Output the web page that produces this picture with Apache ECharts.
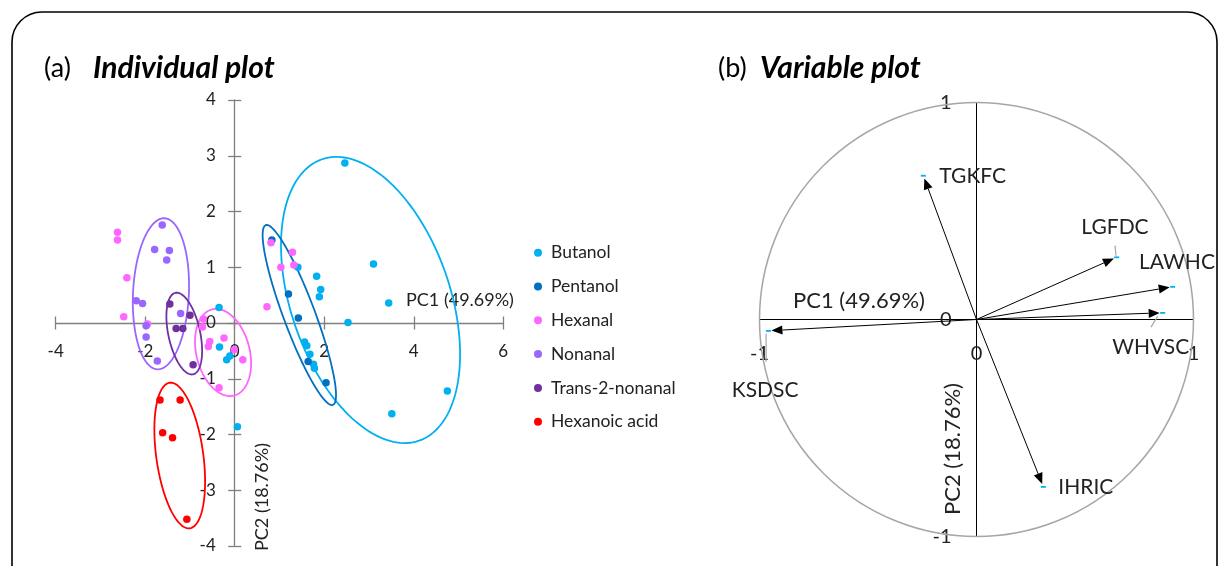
<!DOCTYPE html>
<html>
<head>
<meta charset="utf-8">
<script src="https://cdn.jsdelivr.net/npm/echarts@6/dist/echarts.min.js"></script>
<style>
  html, body { margin: 0; padding: 0; background: #ffffff; }
  #chart { width: 1218px; height: 566px; }
</style>
</head>
<body>
<div id="chart"></div>
<script>
// ---- PCA individual scores (PC1, PC2) per sample group ----
const groupNames = ['Butanol', 'Pentanol', 'Hexanal', 'Nonanal', 'Trans-2-nonanal', 'Hexanoic acid'];
const groupColors = ['#00B0F0', '#0070C0', '#FF66FF', '#9966FF', '#7030A0', '#FF0000'];

const butanolScores = [
  [2.46, 2.87], [3.10, 1.06], [3.44, 0.36], [2.53, 0.01], [4.75, -1.22], [3.51, -1.63],
  [1.83, 0.84], [1.92, 0.60], [1.89, 0.47], [1.41, 1.00], [1.56, -0.34], [1.61, -0.41],
  [1.68, -0.56], [1.76, -0.74], [1.78, -0.81], [-0.35, 0.28], [-0.34, -0.43],
  [-0.18, -0.66], [-0.11, -0.59], [0.06, -1.86]
];
const pentanolScores = [
  [0.83, 1.49], [1.20, 0.52], [1.42, 0.09], [1.64, -0.69], [2.04, -1.07]
];
const hexanalScores = [
  [-2.62, 1.63], [-2.62, 1.49], [-2.41, 0.81], [-2.48, 0.11], [-1.95, -0.02],
  [-0.70, 0.07], [-0.72, -0.07], [-0.56, -0.33], [-0.59, -0.42], [-0.24, -0.27],
  [-0.01, -0.48], [0.18, -0.66], [-0.35, -1.16], [0.72, 0.29], [0.81, 1.44],
  [1.29, 1.27], [1.03, 1.00], [1.32, 1.04]
];
const nonanalScores = [
  [-1.62, 1.76], [-1.79, 1.32], [-1.46, 1.30], [-1.52, 1.13], [-2.20, 0.40],
  [-2.06, 0.35], [-1.98, -0.05], [-1.98, -0.25], [-1.73, -0.68], [-1.21, 0.17]
];
const trans2NonanalScores = [
  [-1.45, 0.34], [-1.00, 0.14], [-1.31, -0.10], [-1.16, -0.10], [-0.93, -0.75]
];
const hexanoicAcidScores = [
  [-1.67, -1.38], [-1.22, -1.38], [-1.61, -1.97], [-1.39, -2.06], [-1.07, -3.52]
];
const groupScores = [butanolScores, pentanolScores, hexanalScores, nonanalScores, trans2NonanalScores, hexanoicAcidScores];

// Confidence ellipses: centre (cx, cy) and two conjugate semi-axis vectors (u, v), in score units
const ellipseParams = [
  [3.034, 0.413, 1.083, -2.524, 1.682, 0.465],
  [1.443, 0.143, 0.750, -1.612, 0.331, 0.099],
  [-0.261, -0.529, 0.247, -0.772, 0.576, 0.119],
  [-1.649, 0.524, -0.080, -1.355, 0.623, -0.024],
  [-1.128, -0.190, 0.197, -0.731, 0.347, 0.060],
  [-1.229, -2.377, 0.225, -1.305, 0.520, 0.058]
];

// ---- PCA variable loadings ----
const varNames = ['TGKFC', 'LGFDC', 'LAWHC', 'WHVSC', 'KSDSC', 'IHRIC'];
const varPC1 = [-0.245, 0.646, 0.904, 0.858, -0.959, 0.308];
const varPC2 = [0.663, 0.287, 0.151, 0.031, -0.052, -0.771];

// Axis titles
const pc1Title = 'PC1 (49.69%)';
const pc2Title = 'PC2 (18.76%)';

// label placement for each loading (pixel offsets from the arrow end, optional leader line)
const varLabelPlacement = [
  { dx: 16, dy: 1, align: 'left' },
  { dx: -1.7, dy: -29.6, align: 'center', leader: [-1.7, -11.6, -0.7, -1.5] },
  { dx: 4.3, dy: -24, align: 'center' },
  { dx: -12, dy: 34.6, align: 'center', leader: [-11.7, 14.3, -5, 3.5] },
  { dx: -3.3, dy: 59.3, align: 'center', leader: [-2.3, 3, -2.3, 31] },
  { dx: 15, dy: 0.6, align: 'left' }
];

const FONT = 'Lato, "Open Sans", "DejaVu Sans", sans-serif';
const TEXT = '#222222';
const chart = echarts.init(document.getElementById('chart'), null, { renderer: 'canvas' });

// plot areas
const gridA = { left: 55.7, top: 100, width: 447.6, height: 446 };
const gridB = { left: 759.5, top: 102.5, width: 434, height: 434 };
const xRangeA = [-4, 6], yRangeA = [-4, 4];
const xRangeB = [-1, 1], yRangeB = [-1, 1];

// offsets that move each axis onto the other axis' zero
function zeroOffsetX(grid, yr) { return -grid.height * (0 - yr[0]) / (yr[1] - yr[0]); }
function zeroOffsetY(grid, xr) { return -grid.width * (0 - xr[0]) / (xr[1] - xr[0]); }

const leftAxisColor = '#7f7f7f';

function makeAxis(gridIndex, range, interval, position, offset, lineColor, lineWidth, tickLen, label, inside) {
  return {
    type: 'value', gridIndex, min: range[0], max: range[1], interval, position, offset,
    splitLine: { show: false },
    axisLine: { show: !inside, onZero: false, lineStyle: { color: lineColor, width: lineWidth } },
    axisTick: { show: true, inside: !!inside, length: tickLen, lineStyle: { color: lineColor, width: lineWidth } },
    axisLabel: label ? Object.assign({ show: true, color: TEXT, fontFamily: FONT, hideOverlap: false }, label) : { show: false }
  };
}

const offXA = zeroOffsetX(gridA, yRangeA), offYA = zeroOffsetY(gridA, xRangeA);
const offXB = zeroOffsetX(gridB, yRangeB), offYB = zeroOffsetY(gridB, xRangeB);

const option = {
  animation: false,
  backgroundColor: '#ffffff',
  textStyle: { fontFamily: FONT },
  grid: [
    Object.assign({ outerBoundsMode: 'none', containLabel: false }, gridA),
    Object.assign({ outerBoundsMode: 'none', containLabel: false }, gridB)
  ],
  xAxis: [
    makeAxis(0, xRangeA, 2, 'bottom', offXA, leftAxisColor, 1.3, 6.5, { fontSize: 17, margin: 20 }),
    makeAxis(0, xRangeA, 2, 'bottom', offXA, leftAxisColor, 1.3, 6.5, null, true),
    makeAxis(1, xRangeB, 1, 'bottom', offXB, '#000', 1, 6, { fontSize: 20, margin: 24 }),
    makeAxis(1, xRangeB, 1, 'bottom', offXB, '#000', 1, 6, null, true)
  ],
  yAxis: [
    makeAxis(0, yRangeA, 1, 'left', offYA, leftAxisColor, 1.3, 6.5, { fontSize: 17, margin: 19 }),
    makeAxis(0, yRangeA, 1, 'left', offYA, leftAxisColor, 1.3, 6.5, null, true),
    makeAxis(1, yRangeB, 1, 'left', offYB, '#000', 1, 8.5, { fontSize: 20, margin: 25 }),
    makeAxis(1, yRangeB, 1, 'left', offYB, '#000', 1, 8.5, null, true)
  ],
  legend: {
    data: groupNames,
    orient: 'vertical',
    left: 534, top: 242.7, padding: 0,
    icon: 'circle', itemWidth: 8, itemHeight: 8, itemGap: 13.8,
    textStyle: { color: TEXT, fontSize: 17.5, fontFamily: FONT, lineHeight: 20, padding: [0, 0, 0, 4] },
    selectedMode: false
  },
  graphic: [
    { type: 'rect', shape: { x: 12, y: 12, width: 1205, height: 640, r: 30 },
      style: { fill: 'none', stroke: '#000', lineWidth: 1.6 }, z: 0, silent: true },
    { type: 'text', x: 44, y: 68, style: { text: '(a)', font: '27px ' + FONT, fill: '#000', verticalAlign: 'middle' } },
    { type: 'text', x: 93, y: 68, style: { text: 'Individual plot', font: 'italic bold 30px ' + FONT, fill: '#000', verticalAlign: 'middle' } },
    { type: 'text', x: 718, y: 68, style: { text: '(b)', font: '27px ' + FONT, fill: '#000', verticalAlign: 'middle' } },
    { type: 'text', x: 760, y: 68, style: { text: 'Variable plot', font: 'italic bold 30px ' + FONT, fill: '#000', verticalAlign: 'middle' } },
    { type: 'text', x: 406, y: 300, style: { text: pc1Title, font: '18px ' + FONT, fill: TEXT, verticalAlign: 'middle' } },
    { type: 'text', x: 262, y: 497, rotation: Math.PI / 2,
      style: { text: pc2Title, font: '18px ' + FONT, fill: TEXT, align: 'center', verticalAlign: 'middle' } },
    { type: 'text', x: 793, y: 301, style: { text: pc1Title, font: '22px ' + FONT, fill: TEXT, verticalAlign: 'middle' } },
    { type: 'text', x: 953, y: 449, rotation: Math.PI / 2,
      style: { text: pc2Title, font: '22px ' + FONT, fill: TEXT, align: 'center', verticalAlign: 'middle' } }
  ],
  series: []
};

// group confidence ellipses
option.series.push({
  type: 'custom', name: 'ellipses', xAxisIndex: 0, yAxisIndex: 0, silent: true, z: 2,
  data: ellipseParams.map((e, i) => [e[0], e[1], i]),
  renderItem(params, api) {
    const i = api.value(2);
    const e = ellipseParams[i];
    const pts = [];
    for (let k = 0; k <= 160; k++) {
      const t = (k / 160) * Math.PI * 2;
      pts.push(api.coord([
        e[0] + e[2] * Math.cos(t) + e[4] * Math.sin(t),
        e[1] + e[3] * Math.cos(t) + e[5] * Math.sin(t)
      ]));
    }
    return { type: 'polyline', shape: { points: pts }, style: { stroke: groupColors[i], fill: 'none', lineWidth: 1.8 } };
  }
});

// individual scores
groupNames.forEach((name, i) => {
  option.series.push({
    name, type: 'scatter', xAxisIndex: 0, yAxisIndex: 0,
    data: groupScores[i], symbol: 'circle', symbolSize: 7.5,
    itemStyle: { color: groupColors[i], opacity: 1 }, z: 3
  });
});

// correlation circle
option.series.push({
  type: 'custom', name: 'circle', xAxisIndex: 2, yAxisIndex: 2, silent: true, z: 1,
  data: [[0, 0]],
  renderItem(params, api) {
    const c = api.coord([0, 0]);
    const r = api.size([1, 1])[0];
    return { type: 'circle', shape: { cx: c[0], cy: c[1], r }, style: { fill: 'none', stroke: '#a6a6a6', lineWidth: 1.5 } };
  }
});

// loading vectors
option.series.push({
  type: 'custom', name: 'loadings', xAxisIndex: 2, yAxisIndex: 2, silent: true, z: 3,
  data: varPC1.map((x, i) => [x, varPC2[i], i]),
  renderItem(params, api) {
    const i = api.value(2);
    const o = api.coord([0, 0]);
    const p = api.coord([api.value(0), api.value(1)]);
    const dx = p[0] - o[0], dy = p[1] - o[1];
    const L = Math.hypot(dx, dy);
    const ux = dx / L, uy = dy / L;
    const tip = [p[0] - 3 * ux, p[1] - 3 * uy];
    const hl = 11, hw = 4.6;
    const base = [tip[0] - hl * ux, tip[1] - hl * uy];
    const left = [base[0] - hw * uy, base[1] + hw * ux];
    const right = [base[0] + hw * uy, base[1] - hw * ux];
    const lp = varLabelPlacement[i];
    const children = [
      { type: 'line', shape: { x1: o[0], y1: o[1], x2: base[0], y2: base[1] }, style: { stroke: '#000', lineWidth: 1 } },
      { type: 'polygon', shape: { points: [tip, left, right] }, style: { fill: '#000' } },
      { type: 'rect', shape: { x: p[0] - 2.5, y: p[1] - 0.8, width: 5, height: 1.8 }, style: { fill: '#00B0F0' } },
      { type: 'text', style: { text: varNames[i], x: p[0] + lp.dx, y: p[1] + lp.dy, font: '21px ' + FONT,
          fill: TEXT, align: lp.align, verticalAlign: 'middle' } }
    ];
    if (lp.leader) {
      children.push({ type: 'line', shape: { x1: p[0] + lp.leader[0], y1: p[1] + lp.leader[1], x2: p[0] + lp.leader[2], y2: p[1] + lp.leader[3] },
        style: { stroke: '#a6a6a6', lineWidth: 1.2 } });
    }
    return { type: 'group', children };
  }
});

chart.setOption(option);
</script>
</body>
</html>
